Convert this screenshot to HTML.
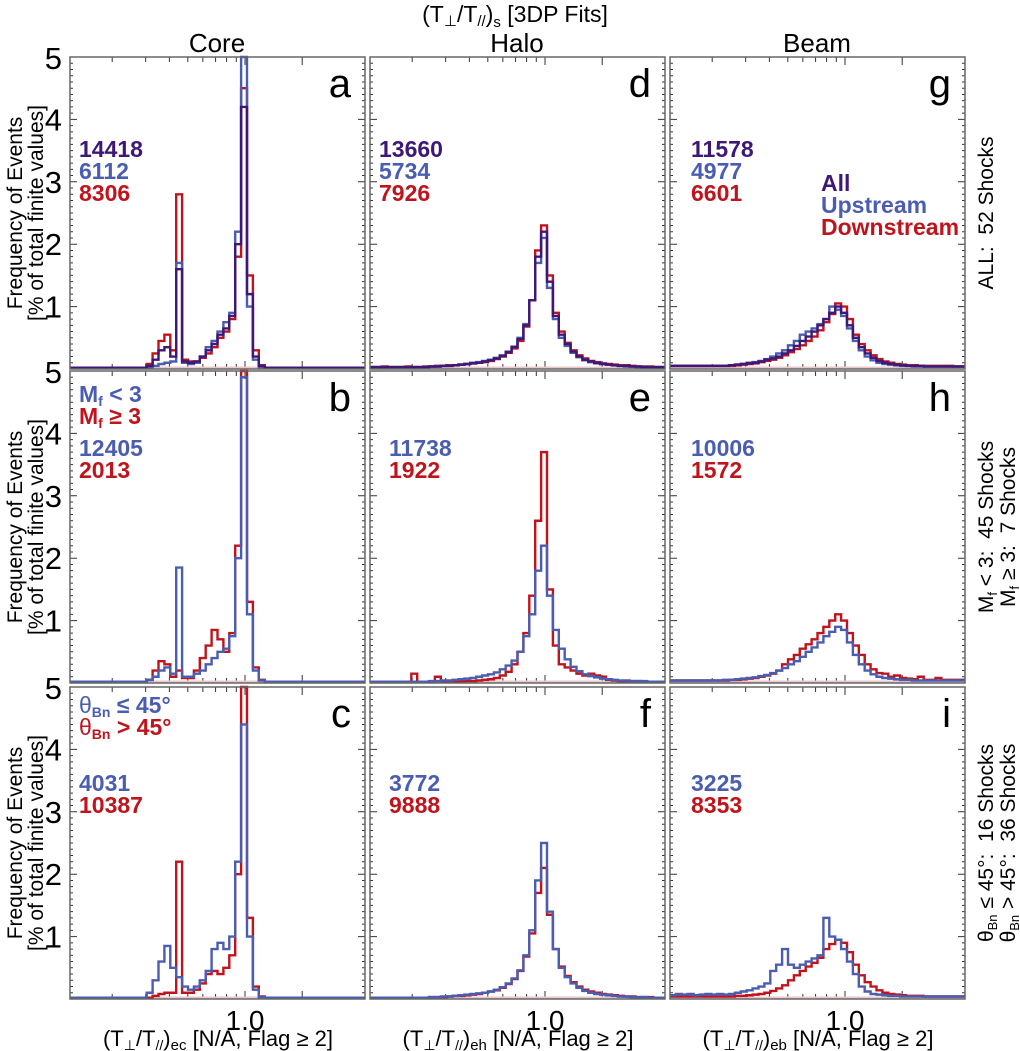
<!DOCTYPE html>
<html><head><meta charset="utf-8"><style>
html,body{margin:0;padding:0;background:#fff}
svg{display:block;font-family:"Liberation Sans",sans-serif}
</style></head><body>
<svg id="fig" width="1020" height="1051" viewBox="0 0 1020 1051" xmlns="http://www.w3.org/2000/svg">
<text x="515" y="22" font-size="23" text-anchor="middle">(T<tspan font-size="15" dy="4">⊥</tspan><tspan dy="-4">/T</tspan><tspan font-size="15" dy="4">//</tspan><tspan dy="-4">)</tspan><tspan font-size="15" dy="5">s</tspan><tspan dy="-5"> [3DP Fits]</tspan></text>
<text x="217" y="52" font-size="26" text-anchor="middle">Core</text>
<text x="517" y="52" font-size="26" text-anchor="middle">Halo</text>
<text x="817" y="52" font-size="26" text-anchor="middle">Beam</text>
<g id="panels"></g>
<g id="texts"></g>
</svg>
<script>
// ---- data: histogram values (% of total) per log-spaced bin, 50 bins ----
const binCount = 50;
const xTickValues = [0.2,0.3,0.4,0.5,0.6,0.7,0.8,0.9,1.0,2.0];
const yTickValues = [1,2,3,4,5];
const z13 = [.02,.02,.02,.02,.02,.02,.02,.02,.02,.02,.02,.02,.02];
const z17 = [.02,.02,.02,.02,.02,.02,.02,.02,.02,.02,.02,.02,.02,.02,.02,.02,.02];
const aAll  = z13.concat([.05,.15,.3,.35,.2,1.6,.12,.1,.12,.2,.3,.4,.55,.65,.85,2.0,4.2,1.2,.2,.05], z17);
const aUp   = z13.concat([.02,.05,.08,.1,.12,1.7,.1,.08,.1,.2,.35,.45,.6,.75,.9,2.2,5.0,1.0,.15,.03], z17);
const aDown = z13.concat([.08,.25,.45,.55,.3,2.8,.15,.12,.12,.18,.25,.35,.5,.6,.8,1.8,4.5,1.5,.3,.06], z17);
const bLow  = z13.concat([.05,.1,.2,.25,.15,1.85,.1,.1,.15,.2,.3,.4,.5,.55,.75,2.0,4.9,1.1,.2,.04], z17);
const bHigh = z13.concat([.05,.2,.35,.3,.1,.2,.08,.08,.2,.4,.6,.85,.7,.5,.8,2.2,5.0,1.3,.25,.05], z17);
const cQperp= z13.concat([.1,.3,.6,.85,.5,.35,.2,.15,.2,.3,.45,.8,.9,.8,1.0,2.2,4.4,1.0,.15,.03], z17);
const cQpar = z13.concat([.02,.05,.08,.1,.1,2.2,.1,.1,.15,.25,.4,.45,.4,.5,.7,2.0,5.0,1.3,.2,.04], z17);
const dAll  = [.03,.03,.03,.03,.03,.03,.03,.03,.03,.03,.04,.04,.05,.05,.06,.07,.08,.09,.1,.12,.14,.17,.21,.27,.35,.48,.7,1.1,1.8,2.2,1.4,.85,.55,.4,.28,.2,.15,.12,.1,.08,.07,.06,.05,.05,.04,.04,.03,.03,.03,.03];
const dUp   = [.03,.03,.03,.03,.03,.03,.03,.03,.03,.03,.04,.04,.05,.05,.06,.07,.08,.1,.11,.13,.15,.18,.22,.28,.36,.5,.72,1.1,1.7,2.1,1.3,.8,.5,.37,.26,.19,.14,.11,.09,.08,.07,.06,.05,.04,.04,.03,.03,.03,.03,.03];
const dDown = [.03,.03,.04,.03,.03,.03,.04,.03,.03,.04,.04,.05,.05,.06,.06,.07,.08,.09,.1,.11,.13,.16,.2,.26,.33,.45,.68,1.1,1.9,2.3,1.5,.9,.6,.42,.3,.22,.17,.13,.11,.09,.08,.07,.06,.06,.05,.04,.04,.04,.03,.03];
const eLow  = [.02,.02,.02,.02,.02,.02,.02,.02,.02,.02,.03,.03,.04,.04,.05,.06,.07,.08,.1,.12,.14,.17,.22,.28,.36,.5,.75,1.1,1.8,2.2,1.4,.85,.55,.38,.26,.19,.14,.11,.09,.07,.06,.05,.04,.04,.03,.03,.03,.02,.02,.02];
const eHigh = [.02,.02,.02,.02,.02,.02,.02,.15,.02,.02,.02,.1,.02,.02,.02,.02,.03,.03,.04,.05,.06,.08,.12,.18,.3,.5,.8,1.4,2.6,3.7,1.5,.6,.3,.25,.2,.15,.12,.15,.12,.1,.05,.04,.03,.03,.03,.03,.02,.02,.02,.02];
const fQperp= [.02,.02,.02,.02,.02,.02,.02,.02,.02,.02,.03,.03,.04,.04,.05,.06,.07,.08,.09,.1,.12,.15,.19,.25,.33,.46,.7,1.1,1.9,2.5,1.4,.8,.5,.35,.25,.18,.13,.1,.08,.07,.06,.05,.04,.04,.03,.03,.03,.02,.02,.02];
const fQpar = [.02,.02,.02,.02,.02,.02,.02,.02,.02,.02,.03,.03,.03,.04,.05,.05,.06,.07,.08,.1,.12,.14,.18,.24,.32,.45,.68,1.05,1.7,2.1,1.35,.8,.52,.37,.27,.2,.15,.12,.1,.08,.07,.06,.05,.04,.04,.03,.03,.03,.02,.02];
const gAll  = [.05,.05,.05,.05,.05,.05,.05,.05,.05,.05,.06,.07,.08,.09,.1,.12,.15,.17,.2,.25,.3,.37,.45,.52,.6,.7,.8,.9,1.0,.9,.7,.5,.35,.25,.18,.13,.1,.08,.07,.06,.05,.05,.05,.04,.04,.04,.04,.04,.04,.04];
const gUp   = [.05,.05,.05,.05,.05,.05,.05,.05,.05,.05,.06,.07,.08,.1,.11,.13,.16,.2,.25,.3,.38,.45,.55,.6,.65,.72,.8,1.0,.95,.85,.65,.45,.3,.2,.14,.1,.08,.07,.06,.05,.05,.04,.04,.04,.04,.04,.04,.04,.04,.04];
const gDown = [.05,.05,.05,.05,.05,.05,.05,.05,.05,.05,.05,.06,.07,.08,.09,.11,.13,.15,.18,.22,.27,.32,.38,.45,.52,.62,.75,.88,1.05,1.0,.8,.55,.4,.3,.22,.16,.12,.1,.08,.07,.06,.06,.05,.05,.05,.05,.05,.05,.04,.04];
const hLow  = [.04,.04,.04,.04,.04,.04,.04,.04,.04,.05,.05,.06,.07,.08,.09,.11,.13,.16,.2,.24,.3,.35,.42,.5,.57,.65,.75,.82,.9,.85,.65,.45,.3,.2,.14,.1,.08,.07,.06,.05,.05,.04,.04,.04,.04,.04,.04,.04,.04,.04];
const hHigh = [.04,.04,.04,.04,.04,.04,.04,.04,.04,.04,.05,.05,.06,.07,.08,.1,.12,.15,.2,.3,.38,.45,.55,.62,.7,.8,.9,1.0,1.1,1.0,.8,.6,.45,.3,.22,.16,.15,.1,.12,.08,.07,.06,.1,.05,.05,.08,.05,.05,.05,.05];
const iQperp= [.06,.08,.07,.08,.06,.07,.08,.07,.08,.07,.08,.1,.12,.14,.17,.2,.25,.45,.55,.8,.55,.5,.55,.6,.65,.7,1.3,1.0,.95,.8,.6,.4,.2,.12,.08,.07,.06,.05,.05,.04,.04,.04,.04,.04,.04,.04,.04,.04,.04,.04];
const iQpar = [.04,.04,.04,.04,.04,.04,.04,.04,.04,.04,.04,.05,.05,.06,.07,.08,.1,.13,.17,.22,.3,.38,.45,.52,.58,.66,.8,.88,.95,.9,.75,.55,.38,.27,.2,.14,.1,.08,.07,.06,.05,.05,.05,.04,.04,.04,.04,.04,.04,.04];

const COL = {purple:'#3f1877', blue:'#4a5db0', red:'#c0141c'};
const colX = [70,370,670], rowY = [57,371,687], PW = 295, PH = 312;
const pxPerDecade = 190, oneAt = 175;
const logMin = -oneAt/pxPerDecade, logMax = (PW-oneAt)/pxPerDecade;
function xs(v){ return (Math.log10(v)-logMin)*pxPerDecade; }
function binEdge(i){ return Math.pow(10, logMin + (logMax-logMin)*i/binCount); }
function ys(v){ return PH - Math.min(v,5)*PH/5; }

const panels = [
 {id:'a',c:0,r:0,series:[[aDown,'red'],[aUp,'blue'],[aAll,'purple']]},
 {id:'b',c:0,r:1,series:[[bHigh,'red'],[bLow,'blue']]},
 {id:'c',c:0,r:2,series:[[cQpar,'red'],[cQperp,'blue']]},
 {id:'d',c:1,r:0,series:[[dDown,'red'],[dUp,'blue'],[dAll,'purple']]},
 {id:'e',c:1,r:1,series:[[eHigh,'red'],[eLow,'blue']]},
 {id:'f',c:1,r:2,series:[[fQpar,'red'],[fQperp,'blue']]},
 {id:'g',c:2,r:0,series:[[gDown,'red'],[gUp,'blue'],[gAll,'purple']]},
 {id:'h',c:2,r:1,series:[[hHigh,'red'],[hLow,'blue']]},
 {id:'i',c:2,r:2,series:[[iQpar,'red'],[iQperp,'blue']]}
];
const NS='http://www.w3.org/2000/svg';
const root=document.getElementById('panels');
function mk(tag,attrs,parent){const e=document.createElementNS(NS,tag);for(const k in attrs)e.setAttribute(k,attrs[k]);parent.appendChild(e);return e;}
panels.forEach(p=>{
  const g=mk('g',{transform:`translate(${colX[p.c]},${rowY[p.r]})`},root);
  
  
  let d='';
  for(let k=1;k<50;k++){const y=ys(k/10);const L=(k%10===0)?7:3;d+=`M0 ${y}h${L}M${PW} ${y}h${-L}`;}
  xTickValues.forEach(v=>{const x=xs(v);const L=(v===1||v===2)?8:5;d+=`M${x} 0v${L}M${x} ${PH}v${-L}`;});
  const t=mk('path',{d:d,stroke:'#333','stroke-width':1,fill:'none'},g);
  
  
  mk('line',{x1:0,x2:PW,y1:PH-1,y2:PH-1,stroke:'#e8c8cc','stroke-width':3},g);
  p.series.forEach(s=>{
    const arr=s[0];let pd='';
    for(let i=0;i<binCount;i++){
      const x0=xs(binEdge(i)),x1=xs(binEdge(i+1)),y=ys(arr[i]);
      pd+=(i===0?`M${x0} ${y}`:`L${x0} ${y}`)+`L${x1} ${y}`;
    }
    const pth=mk('path',{d:pd,stroke:COL[s[1]],'stroke-width':2.4,fill:'none','stroke-linejoin':'miter'},g);
    
    
  });
  const fr=mk('rect',{x:0,y:0,width:PW,height:PH,fill:'none',stroke:'#666','stroke-width':1.5},g);
  
  
  const lt=mk('text',{x:PW-14,y:40,'font-size':40,'text-anchor':'end'},g);
  lt.textContent=p.id;
  
  
});
const tg=document.getElementById('texts');
rowY.forEach((ry,r)=>{
  yTickValues.forEach(v=>{
    const tx=mk('text',{x:62,y:ry+ys(v)+(v===5?12:11),'font-size':31,'text-anchor':'end'},tg);
    tx.textContent=String(v);
    
    
  });
});
colX.forEach(cx=>{
  const tx=mk('text',{x:cx+xs(1),y:1030,'font-size':28,'text-anchor':'middle'},tg);
  tx.textContent='1.0';
  
  
});
</script>
<svg width="1020" height="1051" style="position:absolute;left:0;top:0" font-family="Liberation Sans, sans-serif">
<g font-size="21" text-anchor="middle">
<text transform="translate(22,213) rotate(-90)">Frequency of Events</text>
<text transform="translate(43,213) rotate(-90)">[% of total finite values]</text>
<text transform="translate(22,527) rotate(-90)">Frequency of Events</text>
<text transform="translate(43,527) rotate(-90)">[% of total finite values]</text>
<text transform="translate(22,843) rotate(-90)">Frequency of Events</text>
<text transform="translate(43,843) rotate(-90)">[% of total finite values]</text>
</g>
<g font-size="23" font-weight="bold">
<text x="79" y="157" fill="#3f1877">14418</text>
<text x="79" y="179" fill="#4a5db0">6112</text>
<text x="79" y="201" fill="#c0141c">8306</text>
<text x="379" y="157" fill="#3f1877">13660</text>
<text x="379" y="179" fill="#4a5db0">5734</text>
<text x="379" y="201" fill="#c0141c">7926</text>
<text x="691" y="157" fill="#3f1877">11578</text>
<text x="691" y="179" fill="#4a5db0">4977</text>
<text x="691" y="201" fill="#c0141c">6601</text>
<text x="821" y="191" fill="#3f1877">All</text>
<text x="821" y="213" fill="#4a5db0">Upstream</text>
<text x="821" y="235" fill="#c0141c">Downstream</text>
<text x="79" y="402" fill="#4a5db0">M<tspan font-size="14" dy="4">f</tspan><tspan dy="-4"> &lt; 3</tspan></text>
<text x="79" y="424" fill="#c0141c">M<tspan font-size="14" dy="4">f</tspan><tspan dy="-4"> ≥ 3</tspan></text>
<text x="79" y="456" fill="#4a5db0">12405</text>
<text x="79" y="478" fill="#c0141c">2013</text>
<text x="389" y="456" fill="#4a5db0">11738</text>
<text x="389" y="478" fill="#c0141c">1922</text>
<text x="691" y="456" fill="#4a5db0">10006</text>
<text x="691" y="478" fill="#c0141c">1572</text>
<text x="79" y="713" fill="#4a5db0" font-weight="normal">θ<tspan font-size="14" font-weight="bold" dy="4">Bn</tspan><tspan dy="-4" font-weight="bold"> ≤ 45°</tspan></text>
<text x="79" y="735" fill="#c0141c" font-weight="normal">θ<tspan font-size="14" font-weight="bold" dy="4">Bn</tspan><tspan dy="-4" font-weight="bold"> &gt; 45°</tspan></text>
<text x="79" y="791" fill="#4a5db0">4031</text>
<text x="79" y="813" fill="#c0141c">10387</text>
<text x="389" y="791" fill="#4a5db0">3772</text>
<text x="389" y="813" fill="#c0141c">9888</text>
<text x="691" y="791" fill="#4a5db0">3225</text>
<text x="691" y="813" fill="#c0141c">8353</text>
</g>
<g font-size="22" text-anchor="middle">
<text x="218" y="1046">(T<tspan font-size="14" dy="4">⊥</tspan><tspan dy="-4">/T</tspan><tspan font-size="14" dy="4">//</tspan><tspan dy="-4">)</tspan><tspan font-size="15" dy="4">ec</tspan><tspan dy="-4"> [N/A, Flag ≥ 2]</tspan></text>
<text x="518" y="1046">(T<tspan font-size="14" dy="4">⊥</tspan><tspan dy="-4">/T</tspan><tspan font-size="14" dy="4">//</tspan><tspan dy="-4">)</tspan><tspan font-size="15" dy="4">eh</tspan><tspan dy="-4"> [N/A, Flag ≥ 2]</tspan></text>
<text x="818" y="1046">(T<tspan font-size="14" dy="4">⊥</tspan><tspan dy="-4">/T</tspan><tspan font-size="14" dy="4">//</tspan><tspan dy="-4">)</tspan><tspan font-size="15" dy="4">eb</tspan><tspan dy="-4"> [N/A, Flag ≥ 2]</tspan></text>
</g>
<g font-size="21" text-anchor="middle">
<text transform="translate(993,213) rotate(-90)">ALL:&#160;&#160;52 Shocks</text>
<text transform="translate(993,527) rotate(-90)">M<tspan font-size="13" dy="4">f</tspan><tspan dy="-4"> &lt; 3:&#160;&#160;45 Shocks</tspan></text>
<text transform="translate(1015,527) rotate(-90)">M<tspan font-size="13" dy="4">f</tspan><tspan dy="-4"> ≥ 3:&#160;&#160;7 Shocks</tspan></text>
<text transform="translate(993,843) rotate(-90)">θ<tspan font-size="13" dy="4">Bn</tspan><tspan dy="-4"> ≤ 45°:&#160;&#160;16 Shocks</tspan></text>
<text transform="translate(1015,843) rotate(-90)">θ<tspan font-size="13" dy="4">Bn</tspan><tspan dy="-4"> &gt; 45°:&#160;&#160;36 Shocks</tspan></text>
</g>
</svg>
</body></html>
